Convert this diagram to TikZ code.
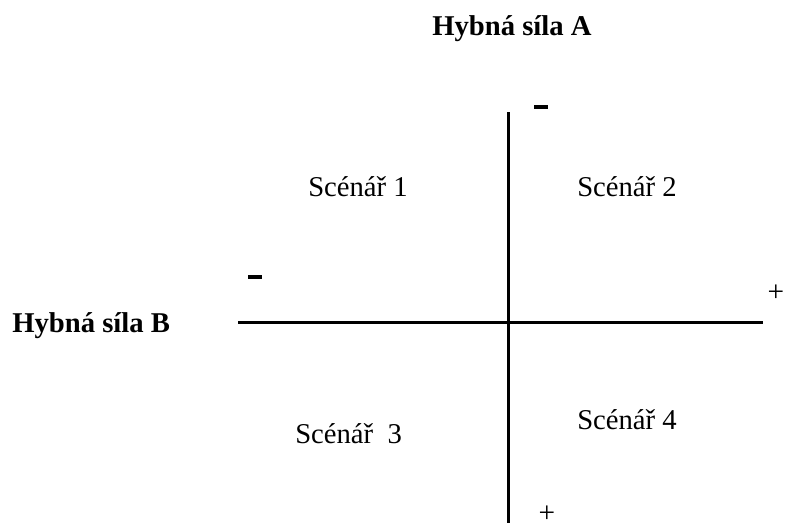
\documentclass[tikz,border=0pt]{standalone}
\usepackage{fontspec}
\setmainfont{Liberation Serif}
\usetikzlibrary{positioning}

\tikzset{
    osa/.style={line width=2.25pt},
    popis/.style={font=\fontsize{21.5}{26}\selectfont, inner sep=0pt, anchor=base west},
    sila/.style={popis, font=\fontsize{21.5}{26}\selectfont\bfseries},
    znamenko/.style={font=\fontsize{22}{26}\selectfont, inner sep=0pt}
}

\begin{document}
\begin{tikzpicture}[x=0.75pt, y=-0.75pt]
            \useasboundingbox (0,0) rectangle (786,529);

            % 1. Osy
            \coordinate (osa-A-top) at (508,112);
            \coordinate (osa-A-bot) at (508,523);
            \coordinate (osa-B-lev) at (238,322);
            \coordinate (osa-B-pra) at (763,322);
            \draw[osa] (osa-A-top) -- (osa-A-bot);
            \draw[osa] (osa-B-lev) -- (osa-B-pra);

            % 2. Hybne sily
            \node[sila] (sila-A) at (432,35) {Hybná síla A};
            \node[sila] (sila-B) at (12,332) {Hybná síla B};

            % 3. Znamenka
            \node[znamenko] (minus-A) at (541,107) {\rule{10.5pt}{3pt}};
            \node[znamenko] (minus-B) at (255,277) {\rule{10.5pt}{3pt}};
            \node[znamenko] (plus-B) at (776,293) {+};
            \node[znamenko] (plus-A) at (547,514) {+};

            % 4. Scenare
            \node[popis] (sc-1) at (308,196) {Scénář 1};
            \node[popis] (sc-2) at (577,196) {Scénář 2};
            \node[popis] (sc-3) at (295,443) {Scénář\ \ 3};
            \node[popis] (sc-4) at (577,429) {Scénář 4};
        \end{tikzpicture}
\end{document}
